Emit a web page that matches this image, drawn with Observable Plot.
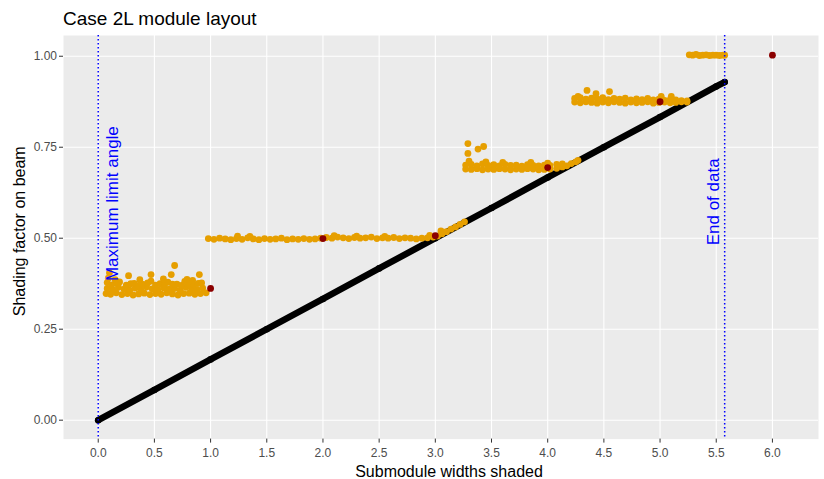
<!DOCTYPE html>
<html>
<head>
<meta charset="utf-8">
<script src="https://cdn.jsdelivr.net/npm/d3@7"></script>
<script src="https://cdn.jsdelivr.net/npm/@observablehq/plot@0.6"></script>
<style>
  html, body { margin: 0; padding: 0; background: #ffffff; }
  #wrap { position: relative; width: 824px; height: 479px; font-family: "Liberation Sans", Arial, sans-serif; }
  #title { position: absolute; left: 63px; top: 9px; font-size: 19px; line-height: 1; color: #000; white-space: nowrap; }
  #chart { position: absolute; left: 0; top: 34px; }
</style>
</head>
<body>
<div id="wrap">
  <div id="title">Case 2L module layout</div>
  <div id="chart"></div>
</div>
<script>
// ---- Tick values ----
const xTicks = [0, 0.5, 1.0, 1.5, 2.0, 2.5, 3.0, 3.5, 4.0, 4.5, 5.0, 5.5, 6.0];
const yTicks = [0, 0.25, 0.5, 0.75, 1.0];

// ---- Reference lines ----
const vlineX = [0, 5.575];
const annotLabels = ["Maximum limit angle", "End of data"];
const annotX = [0.13, 5.48];
const annotY = [0.595, 0.6];

// ---- Black series (shading factor along the diagonal) ----
const blackX = [0, 0.5, 1.0, 1.5, 2.0, 2.5, 3.0, 3.5, 4.0, 4.5, 5.0, 5.5, 5.575];
const blackY = [0, 0.083, 0.167, 0.25, 0.333, 0.417, 0.5, 0.583, 0.667, 0.75, 0.833, 0.917, 0.929];

// ---- Orange series ----
// cluster near 0.35
const o1aX = [0.07,0.11,0.16,0.21,0.26,0.31,0.36,0.41,0.46,0.51,0.56,0.61,0.66,0.71,0.76,0.81,0.86,0.91,0.96];
const o1aY = [0.348,0.346,0.350,0.345,0.348,0.344,0.347,0.349,0.345,0.348,0.346,0.350,0.347,0.344,0.348,0.349,0.346,0.348,0.350];
const o1bX = [0.08,0.13,0.18,0.23,0.28,0.33,0.38,0.43,0.48,0.53,0.58,0.63,0.68,0.73,0.78,0.83,0.88,0.93];
const o1bY = [0.362,0.358,0.365,0.360,0.357,0.363,0.359,0.366,0.361,0.358,0.364,0.360,0.362,0.357,0.365,0.361,0.359,0.363];
const o1cX = [0.08,0.12,0.16,0.19,0.25,0.29,0.32,0.36,0.40,0.44,0.47,0.51,0.55,0.59,0.62,0.66,0.70,0.74,0.77,0.81,0.85,0.89,0.92];
const o1cY = [0.378,0.372,0.376,0.380,0.371,0.375,0.376,0.370,0.373,0.377,0.382,0.371,0.375,0.372,0.379,0.374,0.374,0.370,0.381,0.373,0.372,0.376,0.377];
const o1oX = [0.10,0.09,0.15,0.27,0.37,0.47,0.58,0.65,0.68,0.79,0.90,0.84];
const o1oY = [0.405,0.390,0.386,0.397,0.386,0.400,0.388,0.400,0.425,0.387,0.400,0.384];
// cluster near 0.50
const o2X = [0.98,1.03,1.08,1.13,1.18,1.23,1.28,1.33,1.38,1.43,1.48,1.53,1.58,1.63,1.68,1.73,1.78,1.83,1.88,1.93,1.98,2.03,2.08,2.13,2.18,2.23,2.28,2.33,2.38,2.43,2.48,2.53,2.58,2.63,2.68,2.73,2.78,2.83,2.88,2.93,2.98];
const o2Y = [0.499,0.497,0.500,0.498,0.496,0.499,0.497,0.501,0.498,0.496,0.499,0.497,0.498,0.500,0.496,0.498,0.497,0.499,0.497,0.498,0.500,0.502,0.500,0.503,0.501,0.499,0.502,0.500,0.501,0.503,0.499,0.501,0.500,0.502,0.499,0.501,0.500,0.498,0.500,0.501,0.503];
const o2oX = [1.24,1.35,2.10,2.30,2.55,2.95,3.05];
const o2oY = [0.506,0.505,0.507,0.506,0.505,0.508,0.520];
// along the diagonal after 3.0
const o3dX = [3.02,3.06,3.10,3.14,3.18,3.22,3.26];
const o3dY = [0.506,0.512,0.518,0.525,0.531,0.538,0.545];
// cluster near 0.70
const o3X = [3.27,3.32,3.37,3.42,3.47,3.52,3.57,3.62,3.67,3.72,3.77,3.82,3.87,3.92,3.97,4.02,4.08,4.13];
const o3lY = [0.690,0.689,0.691,0.688,0.690,0.689,0.691,0.690,0.688,0.690,0.689,0.691,0.690,0.688,0.689,0.690,0.692,0.696];
const o3uY = [0.701,0.703,0.699,0.704,0.700,0.702,0.699,0.703,0.700,0.701,0.698,0.702,0.700,0.699,0.701,0.700,0.703,0.704];
const o3oX = [3.30,3.45,3.60,3.85,4.00,3.29,3.29,3.38,3.43];
const o3oY = [0.712,0.710,0.708,0.708,0.706,0.760,0.733,0.745,0.752];
// along the diagonal after 4.0
const o4dX = [4.17,4.21,4.25,4.27];
const o4dY = [0.699,0.705,0.710,0.714];
// cluster near 0.875
const o4X = [4.24,4.29,4.34,4.39,4.44,4.49,4.54,4.59,4.64,4.69,4.74,4.79,4.84,4.89,4.94,4.99,5.04,5.09,5.14,5.19,5.24];
const o4lY = [0.874,0.872,0.875,0.873,0.871,0.874,0.872,0.875,0.873,0.871,0.874,0.872,0.873,0.875,0.871,0.873,0.874,0.872,0.873,0.875,0.874];
const o4uY = [0.884,0.886,0.882,0.885,0.883,0.886,0.881,0.884,0.882,0.885,0.880,0.883,0.881,0.884,0.880,0.882,0.879,0.881,0.880,0.878,0.877];
const o4oX = [4.27,4.35,4.43,4.55,5.01,5.10];
const o4oY = [0.890,0.906,0.897,0.903,0.890,0.890];
// cluster at 1.0
const o5X = [5.26,5.29,5.32,5.35,5.38,5.41,5.44,5.47,5.50,5.53,5.56,5.575];
const o5Y = [1.004,1.003,1.005,1.002,1.003,1.004,1.002,1.003,1.003,1.002,1.003,1.003];

// ---- Dark red series ----
const redX = [1, 2, 3, 4, 5, 6];
const redY = [0.362, 0.499, 0.507, 0.694, 0.875, 1.003];

// ---- Build tables ----
const zip = (xs, ys) => xs.map((x, i) => ({x, y: ys[i]}));
const black = zip(blackX, blackY);
const orange = [].concat(
  zip(o1aX, o1aY), zip(o1bX, o1bY), zip(o1cX, o1cY), zip(o1oX, o1oY),
  zip(o2X, o2Y), zip(o2oX, o2oY), zip(o3dX, o3dY),
  zip(o3X, o3lY), zip(o3X, o3uY), zip(o3oX, o3oY), zip(o4dX, o4dY),
  zip(o4X, o4lY), zip(o4X, o4uY), zip(o4oX, o4oY), zip(o5X, o5Y)
);
const red = zip(redX, redY);
const annots = annotLabels.map((t, i) => ({t, x: annotX[i], y: annotY[i]}));

const W = 824, H = 445;
const chart = Plot.plot({
  width: W,
  height: H,
  marginTop: 1,
  marginLeft: 63,
  marginRight: 6,
  marginBottom: 40.4,
  style: {fontFamily: "'Liberation Sans', Arial, sans-serif", fontSize: "12px", background: "transparent", overflow: "visible"},
  x: {domain: [-0.309, 6.41]},
  y: {domain: [-0.052, 1.057]},
  marks: [
    Plot.frame({fill: "#EBEBEB", stroke: "none"}),
    Plot.ruleX(xTicks, {stroke: "#ffffff", strokeWidth: 1.1}),
    Plot.ruleY(yTicks, {stroke: "#ffffff", strokeWidth: 1.1}),
    Plot.axisX({ticks: xTicks, tickFormat: d => d.toFixed(1), tickSize: 4, tickPadding: 5, stroke: "#333333", fill: "#4D4D4D", fontSize: 12, label: null}),
    Plot.axisY({ticks: yTicks, tickFormat: d => d.toFixed(2), tickSize: 4, tickPadding: 2.5, stroke: "#333333", fill: "#4D4D4D", fontSize: 12, label: null}),
    Plot.line(black, {x: "x", y: "y", stroke: "#000000", strokeWidth: 6.5, strokeLinecap: "round"}),
    Plot.dot(black, {x: "x", y: "y", r: 3.3, fill: "#000000", stroke: "none"}),
    Plot.dot(orange, {x: "x", y: "y", r: 3.4, fill: "#E69F00", stroke: "none"}),
    Plot.dot(red, {x: "x", y: "y", r: 3.4, fill: "#8B0000", stroke: "none"}),
    Plot.ruleX(vlineX, {stroke: "#0000FF", strokeWidth: 1.5, strokeDasharray: "1.5,2.5"}),
    Plot.text(annots, {x: "x", y: "y", text: "t", rotate: -90, fill: "#0000FF", fontSize: 17, textAnchor: "middle", lineAnchor: "middle"}),
    Plot.text(["Submodule widths shaded"], {frameAnchor: "bottom", dy: 33, dx: 8, fontSize: 16, fill: "#000000", textAnchor: "middle", lineAnchor: "middle"}),
    Plot.text(["Shading factor on beam"], {frameAnchor: "left", dx: -44, dy: -6, rotate: -90, fontSize: 16, fill: "#000000", textAnchor: "middle", lineAnchor: "middle"})
  ]
});
document.getElementById("chart").appendChild(chart);
</script>
</body>
</html>
